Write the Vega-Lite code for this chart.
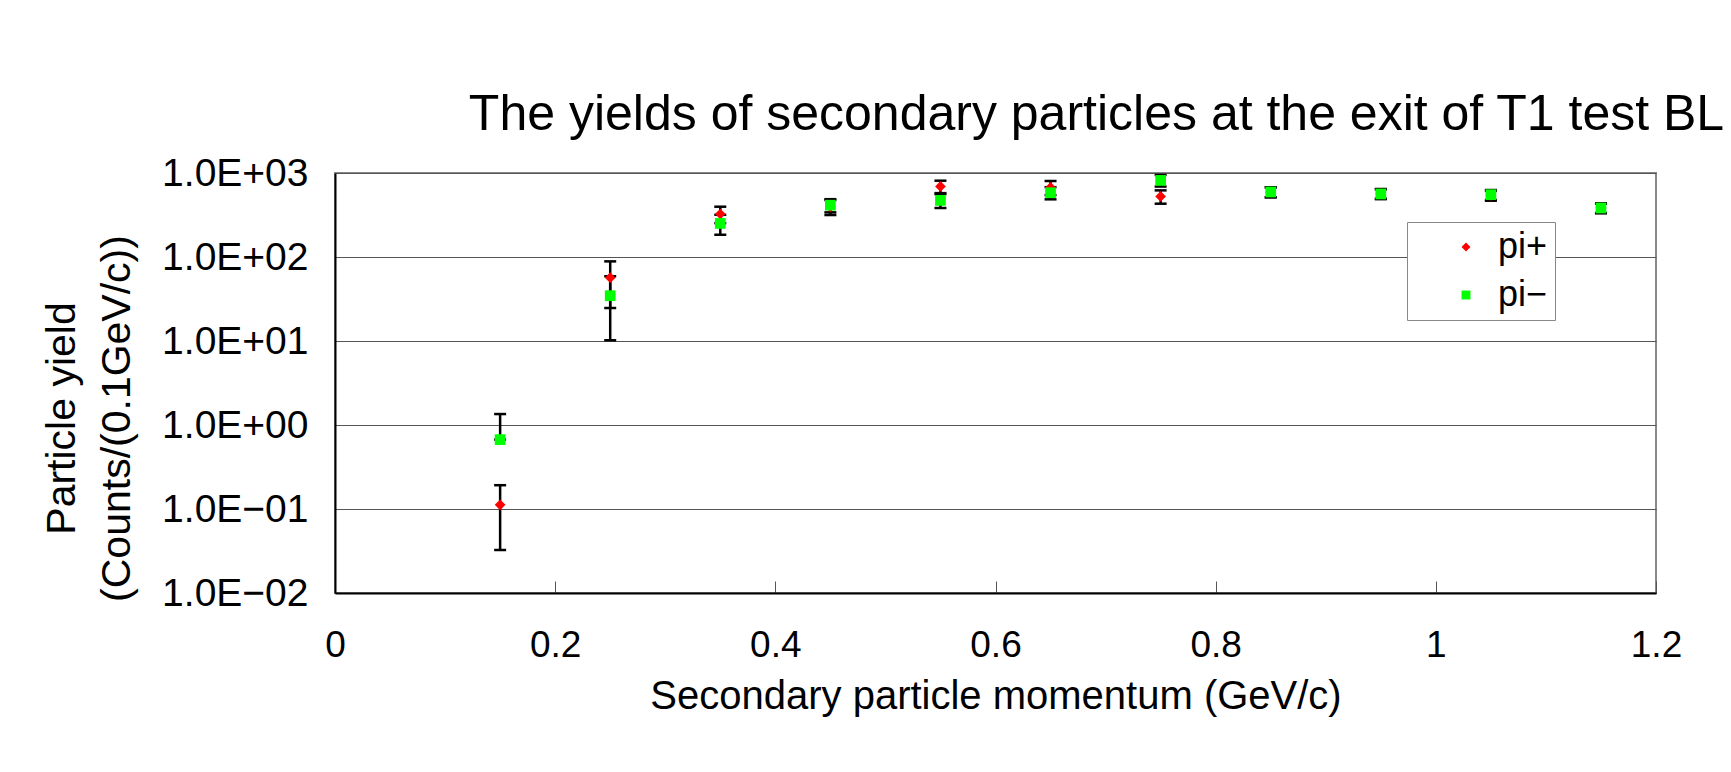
{
  "$schema": "https://vega.github.io/schema/vega-lite/v6.json",
  "width": 1321,
  "height": 420,
  "autosize": {"type": "none"},
  "padding": {"left": 335, "top": 173, "right": 75, "bottom": 179},
  "background": "white",
  "title": {
    "text": "The yields of secondary particles at the exit of T1 test BL",
    "fontSize": 50,
    "font": "Liberation Sans",
    "fontWeight": "normal",
    "color": "black",
    "anchor": "middle",
    "frame": "group",
    "dx": 101,
    "offset": 14
  },
  "config": {
    "view": {"stroke": "#888888", "strokeWidth": 2},
    "font": "Liberation Sans"
  },
  "data": {
    "values": [
      {"p": 0.15, "series": "pi+", "v": 0.112, "lo": 0.0325, "hi": 0.192},
      {"p": 0.25, "series": "pi+", "v": 56.7, "lo": 24.7, "hi": 88.7},
      {"p": 0.35, "series": "pi+", "v": 325, "lo": 253, "hi": 397},
      {"p": 0.45, "series": "pi+", "v": 396, "lo": 316, "hi": 476},
      {"p": 0.55, "series": "pi+", "v": 693, "lo": 576, "hi": 810},
      {"p": 0.65, "series": "pi+", "v": 674, "lo": 545, "hi": 803},
      {"p": 0.75, "series": "pi+", "v": 526, "lo": 431, "hi": 621},
      {"p": 0.85, "series": "pi+", "v": 594, "lo": 514, "hi": 674},
      {"p": 0.95, "series": "pi+", "v": 570, "lo": 495, "hi": 645},
      {"p": 1.05, "series": "pi+", "v": 540, "lo": 468, "hi": 612},
      {"p": 1.15, "series": "pi+", "v": 383, "lo": 333, "hi": 433},
      {"p": 0.15, "series": "pi−", "v": 0.67, "lo": 0.67, "hi": 1.35},
      {"p": 0.25, "series": "pi−", "v": 34.6, "lo": 10.2, "hi": 59},
      {"p": 0.35, "series": "pi−", "v": 251, "lo": 184, "hi": 318},
      {"p": 0.45, "series": "pi−", "v": 414, "lo": 340, "hi": 488},
      {"p": 0.55, "series": "pi−", "v": 472, "lo": 383, "hi": 561},
      {"p": 0.65, "series": "pi−", "v": 582, "lo": 486, "hi": 678},
      {"p": 0.75, "series": "pi−", "v": 816, "lo": 690, "hi": 946},
      {"p": 0.85, "series": "pi−", "v": 594, "lo": 514, "hi": 674},
      {"p": 0.95, "series": "pi−", "v": 563, "lo": 488, "hi": 638},
      {"p": 1.05, "series": "pi−", "v": 552, "lo": 477, "hi": 627},
      {"p": 1.15, "series": "pi−", "v": 383, "lo": 333, "hi": 433}
    ]
  },
  "layer": [
    {
      "mark": {"type": "rule", "color": "black", "strokeWidth": 2.5, "opacity": 1},
      "encoding": {
        "x": {
          "field": "p",
          "type": "quantitative",
          "scale": {"domain": [0, 1.2], "nice": false, "zero": false},
          "axis": {
            "values": [0, 0.2, 0.4, 0.6, 0.8, 1, 1.2],
            "format": "~g",
            "title": "Secondary particle momentum (GeV/c)",
            "grid": false,
            "domainColor": "black",
            "domainWidth": 2,
            "tickColor": "#555555",
            "tickSize": -12,
            "tickWidth": 1,
            "labelFontSize": 37,
            "labelColor": "black",
            "labelPadding": 46,
            "labelFlush": false,
            "labelOverlap": false,
            "titleFontSize": 40,
            "titleFontWeight": "normal",
            "titleColor": "black",
            "titlePadding": 13
          }
        },
        "y": {
          "field": "lo",
          "type": "quantitative",
          "scale": {"type": "log", "domain": [0.01, 1000], "nice": false},
          "axis": {
            "values": [0.01, 0.1, 1, 10, 100, 1000],
            "labelExpr": "'1.0E' + (datum.value >= 1 ? '+' : '−') + '0' + abs(round(log(datum.value) / LN10))",
            "title": ["Particle yield", "(Counts/(0.1GeV/c))"],
            "grid": true,
            "gridColor": "#555555",
            "gridWidth": 1,
            "ticks": false,
            "domainColor": "black",
            "domainWidth": 2,
            "labelFontSize": 39,
            "labelColor": "black",
            "labelPadding": 27,
            "labelOverlap": false,
            "titleFontSize": 41,
            "titleFontWeight": "normal",
            "titleColor": "black",
            "titleX": -273,
            "titleY": 245,
            "titleAngle": -90,
            "titleAlign": "center",
            "titleBaseline": "middle",
            "titleLineHeight": 55
          }
        },
        "y2": {"field": "hi"}
      }
    },
    {
      "mark": {"type": "tick", "orient": "horizontal", "color": "black", "size": 12, "thickness": 2.5, "opacity": 1},
      "encoding": {
        "x": {"field": "p", "type": "quantitative"},
        "y": {"field": "hi", "type": "quantitative"}
      }
    },
    {
      "mark": {"type": "tick", "orient": "horizontal", "color": "black", "size": 12, "thickness": 2.5, "opacity": 1},
      "encoding": {
        "x": {"field": "p", "type": "quantitative"},
        "y": {"field": "lo", "type": "quantitative"}
      }
    },
    {
      "mark": {"type": "point", "filled": true, "size": 115, "opacity": 1, "strokeWidth": 0},
      "encoding": {
        "x": {"field": "p", "type": "quantitative"},
        "y": {"field": "v", "type": "quantitative"},
        "color": {
          "field": "series",
          "type": "nominal",
          "scale": {"domain": ["pi+", "pi−"], "range": ["#FF0000", "#00FF00"]},
          "legend": {
            "title": null,
            "orient": "none",
            "legendX": 1072,
            "legendY": 49,
            "fillColor": "white",
            "strokeColor": "#888888",
            "padding": 7,
            "symbolOffset": 34,
            "labelOffset": 14,
            "labelFontSize": 36,
            "labelColor": "black",
            "symbolSize": 80,
            "rowPadding": 12,
            "labelExpr": "datum.label + '   '"
          }
        },
        "shape": {
          "field": "series",
          "type": "nominal",
          "scale": {"domain": ["pi+", "pi−"], "range": ["diamond", "square"]},
          "legend": {
            "title": null,
            "orient": "none",
            "legendX": 1072,
            "legendY": 49,
            "fillColor": "white",
            "strokeColor": "#888888",
            "padding": 7,
            "symbolOffset": 34,
            "labelOffset": 14,
            "labelFontSize": 36,
            "labelColor": "black",
            "symbolSize": 80,
            "rowPadding": 12,
            "labelExpr": "datum.label + '   '"
          }
        }
      }
    }
  ]
}
